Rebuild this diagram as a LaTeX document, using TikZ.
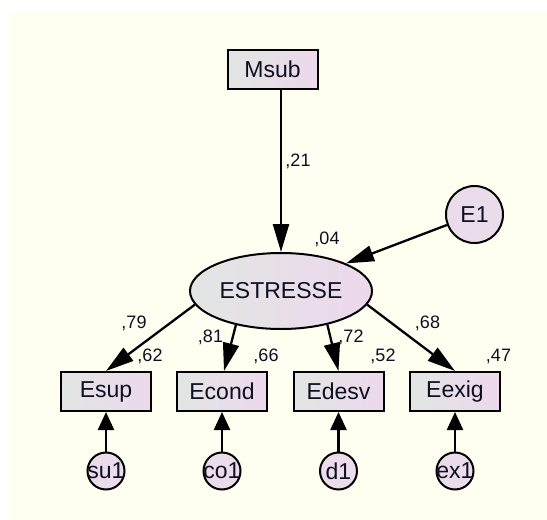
\documentclass[tikz,border=0pt]{standalone}
\usepackage{fontspec}
\setmainfont{Liberation Sans}
\usetikzlibrary{shapes.geometric,arrows.meta}
\definecolor{cream}{RGB}{254,255,240}
\definecolor{gleft}{RGB}{226,230,228}
\definecolor{gright}{RGB}{237,216,236}
\definecolor{circfill}{RGB}{235,220,235}
\definecolor{txt}{RGB}{15,15,35}
\begin{document}
\begin{tikzpicture}[x=1pt,y=-1pt,
  obs/.style={draw=black,line width=2pt,rectangle,minimum width=90pt,minimum height=39pt,inner sep=0pt,left color=gleft,right color=gright,font=\fontsize{23}{25}\selectfont,text=txt},
  lat/.style={draw=black,ellipse,line width=2pt,minimum width=182pt,minimum height=76pt,inner sep=0pt,left color=gleft,right color=gright,font=\fontsize{23}{25}\selectfont,text=txt},
  err/.style={draw=black,circle,line width=2pt,fill=circfill,inner sep=0pt,font=\fontsize{23}{25}\selectfont,text=txt},
  lab/.style={font=\fontsize{18}{20}\selectfont,text=txt,inner sep=0pt},
  big/.style={-{Triangle[length=28pt,width=16pt]},line width=2.3pt},
  small/.style={-{Triangle[length=18pt,width=16pt]},line width=2.3pt}]
\useasboundingbox (0,0) rectangle (547,520);
\fill[cream] (10,12) rectangle (547,520);
% nodes
\node[obs] (Msub) at (272.5,69.5) {Msub};
\node[lat] (ell) at (281,291) {ESTRESSE};
\node[err,minimum size=57pt] (E1) at (474.5,214.5) {E1};
\node[obs] (Esup) at (106,391.5) {Esup};
\node[obs] (Econd) at (222,391.5) {Econd};
\node[obs] (Edesv) at (338.5,391.5) {Edesv};
\node[obs] (Eexig) at (455,391.5) {Eexig};
\node[err,minimum size=37pt] (su1) at (106,471) {\makebox[0pt]{su1}};
\node[err,minimum size=37pt] (co1) at (222,471) {\makebox[0pt]{co1}};
\node[err,minimum size=37pt] (d1) at (338.5,471) {\makebox[0pt]{d1}};
\node[err,minimum size=37pt] (ex1) at (455,471) {\makebox[0pt]{ex1}};
% connectors
\draw[big] (Msub.south -| ell.north) -- (ell.north);
\draw[big] (E1) -- (ell.23);
\draw[big] (ell.189) -- (Esup.north);
\draw[big] (ell.217) -- ([xshift=2pt]Econd.north);
\draw[big] (ell.324) -- (Edesv.north);
\draw[big] (ell.351.5) -- (Eexig.north);
\draw[small] (su1) -- (Esup);
\draw[small] (co1) -- (Econd);
\draw[small] (d1) -- (Edesv);
\draw[small] (ex1) -- (Eexig);
% labels
\node[lab] (l21) at (298,161) {,21};
\node[lab] (l04) at (327,239.5) {,04};
\node[lab] (l79) at (134,323) {,79};
\node[lab] (l62) at (150,356) {,62};
\node[lab] (l81) at (210.5,337) {,81};
\node[lab] (l66) at (266,356) {,66};
\node[lab] (l72) at (351,337) {,72};
\node[lab] (l52) at (383,356) {,52};
\node[lab] (l68) at (427.5,323) {,68};
\node[lab] (l47) at (498.5,356) {,47};
\end{tikzpicture}
\end{document}
